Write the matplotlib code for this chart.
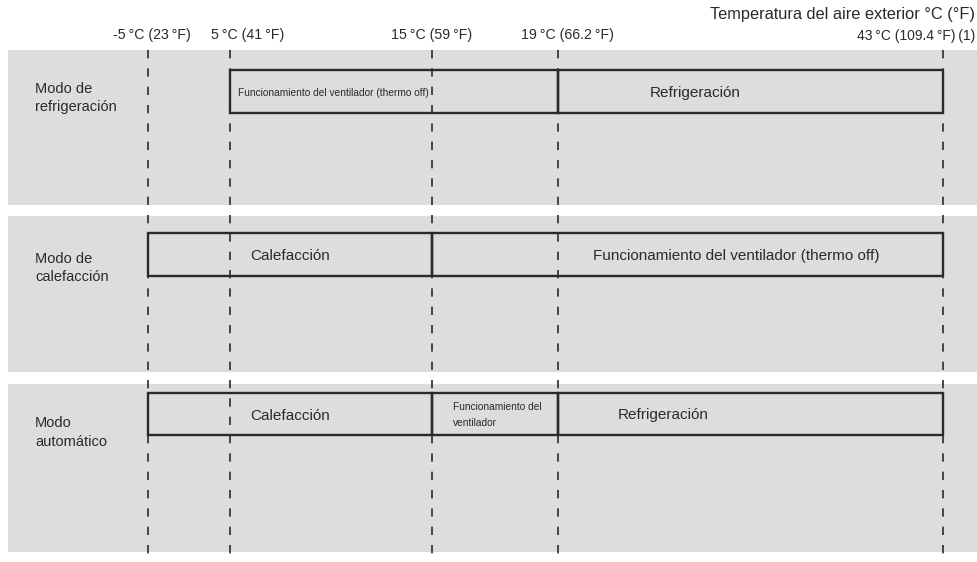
import matplotlib.pyplot as plt
import matplotlib
from matplotlib.patches import Rectangle

# data
limit_labels = ['-5 °C (23 °F)', '5 °C (41 °F)', '15 °C (59 °F)', '19 °C (66.2 °F)']
last_label = '43 °C (109.4 °F) (1)'
axis_title = 'Temperatura del aire exterior °C (°F)'
modes = ['Modo de\nrefrigeración', 'Modo de\ncalefacción', 'Modo\nautomático']
# segments per mode: (start limit index, end limit index, text, small text?)
seg_cool = [(1, 3, 'Funcionamiento del ventilador (thermo off)', True),
            (3, 4, 'Refrigeración', False)]
seg_heat = [(0, 2, 'Calefacción', False),
            (2, 4, 'Funcionamiento del ventilador (thermo off)', False)]
seg_auto = [(0, 2, 'Calefacción', False),
            (2, 3, 'Funcionamiento del\nventilador', True),
            (3, 4, 'Refrigeración', False)]
segments = [seg_cool, seg_heat, seg_auto]

# layout (pixels, schematic not to scale)
W, H = 977, 562
limit_x = [148, 230, 432, 558, 943]
label_x = [152, 248, 432, 567]
panel_y = [(50, 205), (216, 372), (384, 552)]
box_y = [(70, 113), (233, 276), (393, 435)]
mode_y = [98, 268, 432.5]
text_x = {(0, 1): 238, (0, 3): 650, (1, 0): 250, (1, 2): 593,
          (2, 0): 250, (2, 2): 453, (2, 3): 618}

gray = '#dcdddc'
ink = '#2d2926'
font = ['Liberation Sans', 'DejaVu Sans']
narrow = ['Liberation Sans Narrow', 'Liberation Sans', 'DejaVu Sans']

fig = plt.figure(figsize=(W / 100, H / 100), dpi=100)
ax = fig.add_axes([0, 0, 1, 1])
ax.set_xlim(0, W)
ax.set_ylim(H, 0)
ax.axis('off')

for i, (y0, y1) in enumerate(panel_y):
    ax.add_patch(Rectangle((8, y0), W - 8, y1 - y0, facecolor=gray, edgecolor='none', zorder=0))
    ax.text(35, mode_y[i], modes[i], ha='left', va='center', fontsize=10.5,
            family=font, color=ink, linespacing=1.45)
    b0, b1 = box_y[i]
    for s, e, txt, small in segments[i]:
        x0, x1 = limit_x[s], limit_x[e]
        ax.add_patch(Rectangle((x0, b0), x1 - x0, b1 - b0, facecolor='none',
                               edgecolor=ink, linewidth=1.7, zorder=3))
        ax.text(text_x[(i, s)], (b0 + b1) / 2 + 1.5, txt, ha='left', va='center',
                fontsize=7.3 if small else 11, family=narrow if small else font,
                color=ink, linespacing=1.75, zorder=4)

for x in limit_x:
    ax.plot([x, x], [50, 560], color=ink, linewidth=1.2, dashes=(5, 6), zorder=2)

for lx, lab in zip(label_x, limit_labels):
    ax.text(lx, 35, lab.replace(' °', '\u2009°'), ha='center', va='center',
            fontsize=10.2, family=font, color=ink)
ax.text(975, 36, last_label.replace(' °', '\u2009°').replace(') (', ')\u2009('),
        ha='right', va='center', fontsize=10, family=font, color=ink)
ax.text(975, 15, axis_title, ha='right', va='center', fontsize=11.8, family=font, color=ink)

plt.savefig('out.png', dpi=100)
plt.close()
